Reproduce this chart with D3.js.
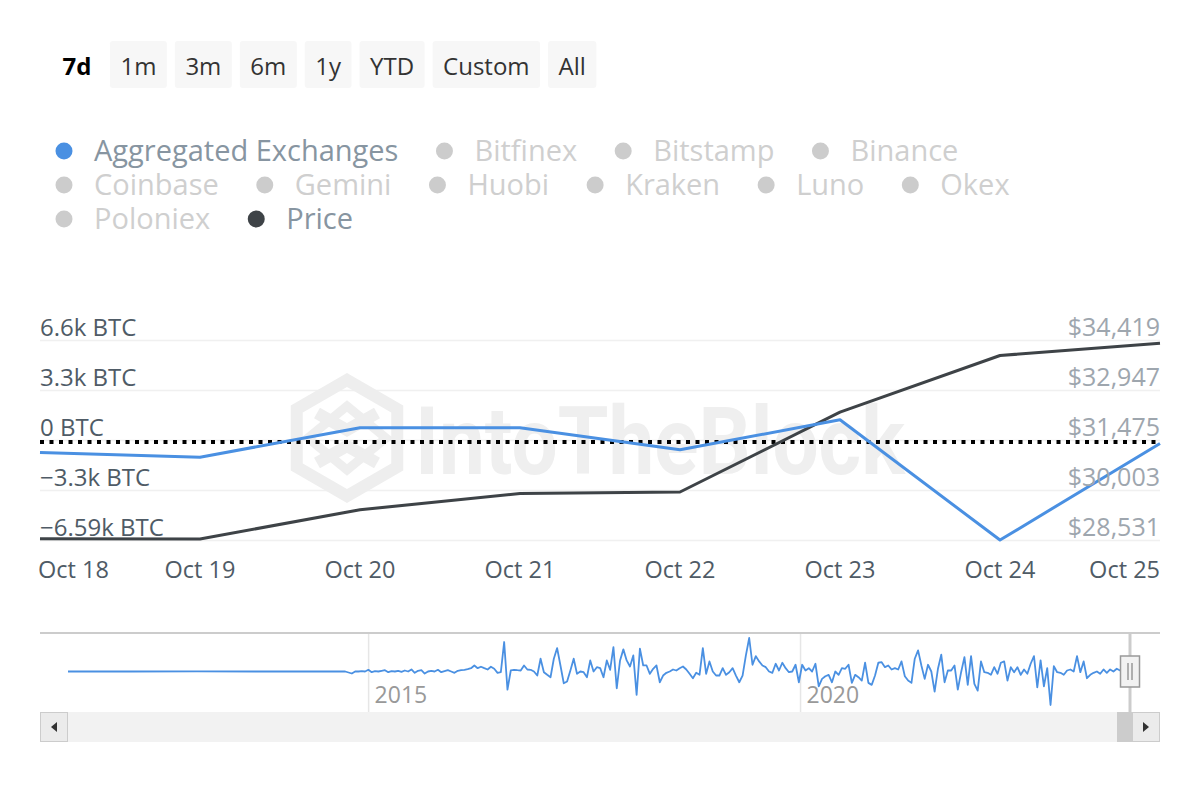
<!DOCTYPE html>
<html><head><meta charset="utf-8">
<script src="https://cdn.jsdelivr.net/npm/d3@7/dist/d3.min.js"></script>
<style>
body{margin:0;background:#fff;}
svg{display:block;font-family:"Open Sans",sans-serif;}
</style>
</head><body>
<svg id="c" width="1200" height="800"></svg>
<script>
// ---------- data ----------
const rangeButtons = ["7d","1m","3m","6m","1y","YTD","Custom","All"];
const selectedButton = "7d";
const legendItems = ["Aggregated Exchanges","Bitfinex","Bitstamp","Binance","Coinbase","Gemini","Huobi","Kraken","Luno","Okex","Poloniex","Price"];
const legendColors = {"Aggregated Exchanges":"#4a90e2","Price":"#3e4347"};
const dates = ["2023-10-18","2023-10-19","2023-10-20","2023-10-21","2023-10-22","2023-10-23","2023-10-24","2023-10-25"];
const xTickLabels = ["Oct 18","Oct 19","Oct 20","Oct 21","Oct 22","Oct 23","Oct 24","Oct 25"];
const netflowBTC = [-790,-1100,840,840,-615,1365,-6560,-200];
const priceUSD = [28581,28575,29435,29915,29959,32308,33977,34340];
const leftTicks = [-6590,-3295,0,3295,6590];
const leftTickLabels = ["\u22126.59k BTC","\u22123.3k BTC","0 BTC","3.3k BTC","6.6k BTC"];
const rightTicks = [28531,30003,31475,32947,34419];
const rightTickLabels = ["$28,531","$30,003","$31,475","$32,947","$34,419"];
// navigator (all history, thousand BTC)
const navDomain = ["2011-07-10","2023-10-25"];
const navEarlyDates = ["2011-07-10","2012-04-01","2013-01-06","2013-10-06","2014-07-06"];
const navEarlyValues = [0,0,0.2,0,0];
const navStartDate = "2014-09-24";
const navStepDays = 14;
const navValues = [
0,-1,-2,0,0,0.3,0,1.7,-0.7,0.3,0,0.7,1.3,-0.7,0.3,0,0.7,-0.3,1,0,2,-1.3,0.7,1.3,-2,0,0.7,0,1.7,-0.7,0.3,1.3,0,-1.3,0.7,1.3,1.7,2.3,3.3,6,3.3,4.7,3.3,2,4.7,2.7,-1.3,-0.7,29.3,-18,1,1.7,1.3,1,6,2,
1.7,0,-4,12.7,-0.7,-3.3,-5.7,12.7,23.3,6,-11.7,-10,1,12.7,-2.3,0,-0.7,-5.7,11,0,4.3,3.3,-5.7,11,1.7,24.3,-16.7,11,22,11,5,16,-23.3,22.7,6,6,-2.3,2.7,6,-10.7,-4,-1.3,0,2,1,3.3,5,2,-2.3,-6.7,-1.3,-3.3,23.3,-2.3,10,0,-4,
-4,3.3,-3.3,-0.7,3.3,-4,-10.7,-4,16,33.3,6.7,15.3,10,6,4.3,0,-1.3,7.7,1,8.7,3.3,-0.7,0,6.7,-10.7,6.7,1,3.3,0,7.7,-14.7,-7.3,-4.7,-3.3,-10.7,0,-3.3,3.3,2.7,6.7,-11.3,-3.3,-5.7,-9,8.7,-11.3,-13.3,-4,8.7,9.3,4.3,6,2,3.3,2,10,-4.7,
-9,-11.3,12.7,21,6,-7.3,6.7,0,-20,2.7,16.7,-10.7,1,1,6,-18,-0.7,14.3,-13.3,15.3,-12.3,-19,10,-0.7,-1.3,-3.3,4.3,-2.3,8.7,10,-9,4.3,-0.7,4.3,-3.3,2,-2.3,7.7,15.3,-15.7,11,-14.7,3.3,-33.3,5.3,-0.7,-1.3,-3.3,1,2,0,15.3,-0.7,10,-6.7,-3.3,-1.3,
0,-2.3,2,-1.3,2,0,2.7,1,-0.7
];
const navTicks = ["2015-01-01","2020-01-01"];
const navTickLabels = ["2015","2020"];

// ---------- drawing ----------
const svg = d3.select("#c");
const parse = d3.utcParse("%Y-%m-%d");

// range selector buttons
(function(){
  const g = svg.append("g");
  let x = 52;
  rangeButtons.forEach(b => {
    const sel = b === selectedButton;
    const bg = g.append("rect").attr("y",41).attr("height",47).attr("rx",3)
      .attr("fill", sel ? "none" : "#f7f7f7");
    const t = g.append("text").attr("y",75).attr("font-size",24)
      .attr("font-weight", sel ? 700 : 400).attr("fill", sel ? "#000" : "#333")
      .attr("text-anchor","middle").text(b);
    const w = t.node().getComputedTextLength() + 21;
    bg.attr("x",x).attr("width",w);
    t.attr("x",x + w/2);
    x += w + 8;
  });
})();

// legend
(function(){
  const g = svg.append("g");
  let cx = 64, row = 0;
  const rowY = [151,185,219];
  legendItems.forEach(name => {
    const active = legendColors[name] !== undefined;
    const it = g.append("g");
    const t = it.append("text").attr("font-size",29)
      .attr("fill", active ? "#8795a1" : "#cfcfcf").text(name);
    const w = t.node().getComputedTextLength();
    if (cx + 30 + w > 1120) { row++; cx = 64; }
    it.append("circle").attr("cx",cx).attr("cy",rowY[row]).attr("r",8.5)
      .attr("fill", active ? legendColors[name] : "#cccccc");
    t.attr("x",cx + 30).attr("y",rowY[row] + 10);
    cx = cx + 30 + w + 46;
  });
})();

// main chart scales
const x = d3.scaleUtc().domain([parse(dates[0]), parse(dates[dates.length-1])]).range([40,1160]);
const yL = d3.scaleLinear().domain([leftTicks[0], leftTicks[leftTicks.length-1]]).range([540.5,340.5]);
const yR = d3.scaleLinear().domain([rightTicks[0], rightTicks[rightTicks.length-1]]).range([540.5,340.5]);

// grid
svg.append("g").selectAll("line").data(leftTicks).join("line")
  .attr("x1",40).attr("x2",1160).attr("y1",d=>yL(d)).attr("y2",d=>yL(d))
  .attr("stroke","#f0f0f0").attr("stroke-width",1.5);

// watermark
(function(){
  const g = svg.append("g").attr("fill","none").attr("stroke","#eeeeee").attr("stroke-width",12).attr("stroke-linejoin","miter");
  const cx = 347, cy = 438, r = 58;
  const hex = d3.range(6).map(i => { const a = Math.PI/180*(60*i-90); return [cx + r*Math.cos(a), cy + r*Math.sin(a)]; });
  g.append("path").attr("d", d3.line()(hex) + "Z");
  const ir = 30;
  g.append("path").attr("d", `M${cx-ir},${cy-r/2+4} L${cx},${cy-8} L${cx+ir},${cy-r/2+4} M${cx-ir},${cy+r/2-4} L${cx},${cy+8} L${cx+ir},${cy+r/2-4}`);
  g.append("path").attr("d", `M${cx-ir*1.3},${cy} L${cx},${cy-r*0.55} L${cx+ir*1.3},${cy} L${cx},${cy+r*0.55} Z`).attr("stroke-width",9);
  svg.append("text").attr("x",415).attr("y",474).attr("font-family","Roboto, sans-serif").attr("font-weight",700)
    .attr("font-size",94).attr("fill","#efefef").attr("textLength",490).attr("lengthAdjust","spacingAndGlyphs").text("IntoTheBlock");
})();

// dotted zero line
svg.append("line").attr("x1",40).attr("x2",1160).attr("y1",yL(0)+1.5).attr("y2",yL(0)+1.5)
  .attr("stroke","#000").attr("stroke-width",4).attr("stroke-dasharray","4,5.5");

// series
const pts = dates.map((d,i)=>({d:parse(d), n:netflowBTC[i], p:priceUSD[i]}));
svg.append("path").datum(pts).attr("fill","none").attr("stroke","#3e4347").attr("stroke-width",3)
  .attr("stroke-linejoin","round").attr("d", d3.line().x(d=>x(d.d)).y(d=>yR(d.p)));
svg.append("path").datum(pts).attr("fill","none").attr("stroke","#4a90e2").attr("stroke-width",3)
  .attr("stroke-linejoin","round").attr("d", d3.line().x(d=>x(d.d)).y(d=>yL(d.n)));

// axis labels
svg.append("g").selectAll("text").data(leftTicks).join("text")
  .attr("x",40).attr("y",d=>yL(d)-5).attr("font-size",24).attr("fill","#4f5b66")
  .text((d,i)=>leftTickLabels[i]);
svg.append("g").selectAll("text").data(rightTicks).join("text")
  .attr("x",1160).attr("y",d=>yR(d)-5).attr("font-size",25).attr("fill","#9ea6ae").attr("text-anchor","end")
  .text((d,i)=>rightTickLabels[i]);
svg.append("g").selectAll("text").data(dates).join("text")
  .attr("x",d=>x(parse(d))).attr("y",578).attr("font-size",23.5).attr("fill","#4f5b66")
  .attr("text-anchor",(d,i)=> i===0 ? "start" : (i===dates.length-1 ? "end" : "middle"))
  .attr("dx",(d,i)=> i===0 ? -2 : 0)
  .text((d,i)=>xTickLabels[i]);

// navigator
const xn = d3.scaleUtc().domain(navDomain.map(parse)).range([68,1130]);
const navPts = navEarlyDates.map((d,i)=>({d:parse(d), v:navEarlyValues[i]}))
  .concat(navValues.map((v,i)=>({d:d3.utcDay.offset(parse(navStartDate), i*navStepDays), v})));
const yn = d3.scaleLinear().domain(d3.extent(navPts, d=>d.v)).range([705,638]);
svg.append("g").selectAll("line").data(navTicks).join("line")
  .attr("x1",d=>xn(parse(d))).attr("x2",d=>xn(parse(d))).attr("y1",633).attr("y2",712)
  .attr("stroke","#e6e6e6").attr("stroke-width",1.5);
svg.append("g").selectAll("text").data(navTicks).join("text")
  .attr("x",d=>xn(parse(d))+6).attr("y",703).attr("font-size",23).attr("fill","#999")
  .text((d,i)=>navTickLabels[i]);
svg.append("path").datum(navPts).attr("fill","none").attr("stroke","#4a90e2").attr("stroke-width",1.8)
  .attr("stroke-linejoin","round").attr("d", d3.line().x(d=>xn(d.d)).y(d=>yn(d.v)));
svg.append("line").attr("x1",40).attr("x2",1160).attr("y1",633).attr("y2",633).attr("stroke","#cccccc").attr("stroke-width",2);
const hx = xn(parse(navDomain[1]));
svg.append("line").attr("x1",hx).attr("x2",hx).attr("y1",633).attr("y2",712).attr("stroke","#cccccc").attr("stroke-width",3);
svg.append("rect").attr("x",hx-9.5).attr("y",656).attr("width",19).attr("height",31).attr("fill","#f2f2f2").attr("stroke","#999").attr("stroke-width",1.5);
svg.append("path").attr("d",`M${hx-2},663V680M${hx+2},663V680`).attr("stroke","#999").attr("stroke-width",1.5);

// scrollbar
svg.append("rect").attr("x",40).attr("y",712).attr("width",1120).attr("height",30).attr("fill","#f2f2f2");
svg.append("rect").attr("x",1117).attr("y",712).attr("width",15).attr("height",30).attr("fill","#cccccc");
[[40,-1],[1132,1]].forEach(([bx,dir])=>{
  svg.append("rect").attr("x",bx+0.5).attr("y",712.5).attr("width",27).attr("height",29).attr("fill","#ebebeb").attr("stroke","#cccccc");
  const c = bx+14;
  svg.append("path").attr("fill","#333").attr("d", dir<0 ? `M${c+3},722L${c-3},727L${c+3},732Z` : `M${c-3},722L${c+3},727L${c-3},732Z`);
});
</script>
</body></html>
